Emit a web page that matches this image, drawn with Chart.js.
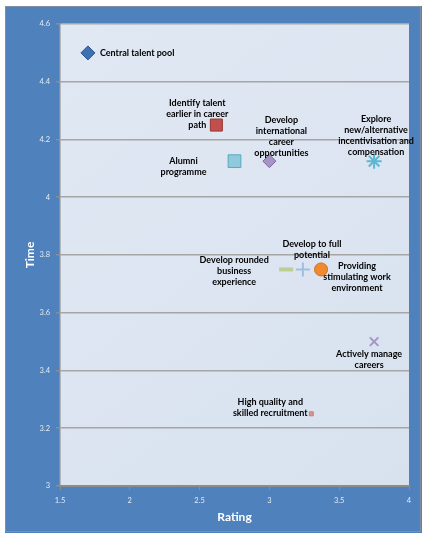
<!DOCTYPE html>
<html><head><meta charset="utf-8">
<script src="https://cdn.jsdelivr.net/npm/chart.js@4/dist/chart.umd.min.js"></script>
<style>html,body{margin:0;padding:0;background:#fff}#wrap{width:422px;height:533px}</style>
</head><body><div id="wrap"><canvas id="c" width="422" height="533"></canvas></div>
<script>
// ---- data ----
const names = [
  "Central talent pool",
  "Identify talent\nearlier in career\npath",
  "Alumni\nprogramme",
  "Develop\ninternational\ncareer\nopportunities",
  "Explore\nnew/alternative\nincentivisation and\ncompensation",
  "Develop rounded\nbusiness\nexperience",
  "Develop to full\npotential",
  "Providing\nstimulating work\nenvironment",
  "Actively manage\ncareers",
  "High quality and\nskilled recruitment"
];
const rating = [1.7, 2.62, 2.75, 3.0, 3.75, 3.12, 3.24, 3.37, 3.75, 3.3];
const time   = [4.5, 4.25, 4.125, 4.125, 4.125, 3.75, 3.75, 3.75, 3.5, 3.25];
const xTicks = [1.5, 2, 2.5, 3, 3.5, 4];
const yTicks = [3, 3.2, 3.4, 3.6, 3.8, 4, 4.2, 4.4, 4.6];

// ---- styling (separate from data) ----
const markerStyles = [
  {pointStyle:'rectRot', radius:7,  bg:'#3f70b2', bd:'#2a5690', bw:1},
  {pointStyle:'rect',    radius:8.5,bg:'#c0504d', bd:'#9a3532', bw:1},
  {pointStyle:'rect',    radius:9,  bg:'#8ecadb', bd:'#5aa9c0', bw:1},
  {pointStyle:'rectRot', radius:6.5,bg:'#a594c4', bd:'#8064a2', bw:1},
  {pointStyle:'star',    radius:7.5,bg:'#5fb6d0', bd:'#5fb6d0', bw:2},
  {pointStyle:'line',    radius:7,  bg:'#c3d69b', bd:'#bccf92', bw:4},
  {pointStyle:'cross',   radius:7,  bg:'#a3bddd', bd:'#a3bddd', bw:2},
  {pointStyle:'circle',  radius:6.5,bg:'#f08a30', bd:'#d9700f', bw:1},
  {pointStyle:'crossRot',radius:6,  bg:'#a594c4', bd:'#a594c4', bw:2},
  {pointStyle:'rect',    radius:2.8,bg:'#d99694', bd:'#c77a78', bw:1}
];
// label placement relative to marker (px): dx, dy of first line center, alignment
const labelPlace = [
  {dx:12, dy:0, align:'left'},
  {dx:-19, dy:-22, align:'center'},
  {dx:-51, dy:0, align:'center'},
  {dx:12, dy:-41, align:'center'},
  {dx:2, dy:-42, align:'center'},
  {dx:-52, dy:-9, align:'center'},
  {dx:9, dy:-25, align:'center'},
  {dx:36, dy:-3, align:'center'},
  {dx:-5, dy:12, align:'center'},
  {dx:-41, dy:-12, align:'center'}
];

const datasets = names.map((n,i)=>({
  label: n,
  data: [{x: rating[i], y: time[i]}],
  pointStyle: markerStyles[i].pointStyle,
  pointRadius: markerStyles[i].radius,
  pointHoverRadius: markerStyles[i].radius,
  backgroundColor: markerStyles[i].bg,
  borderColor: markerStyles[i].bd,
  borderWidth: markerStyles[i].bw
}));

const framePlugin = {
  id:'frame',
  beforeDraw(chart){
    const ctx = chart.ctx, a = chart.chartArea;
    ctx.save();
    ctx.fillStyle = '#ffffff';
    ctx.fillRect(0,0,chart.width,chart.height);
    ctx.fillStyle = '#4f81bd';
    ctx.fillRect(5,6,chart.width-5,chart.height-6);
    ctx.strokeStyle = '#7f8fa6';
    ctx.lineWidth = 1;
    ctx.strokeRect(5.5,6.5,chart.width-7,chart.height-8);
    const g = ctx.createLinearGradient(a.left,a.top,a.right,a.bottom);
    g.addColorStop(0,'#e0e8f3');
    g.addColorStop(1,'#d8e2ef');
    ctx.fillStyle = g;
    ctx.fillRect(a.left,a.top,a.right-a.left,a.bottom-a.top);
    ctx.restore();
  }
};

const labelPlugin = {
  id:'ptlabels',
  afterDatasetsDraw(chart){
    const ctx = chart.ctx, xs = chart.scales.x, ys = chart.scales.y;
    ctx.save();
    ctx.font = 'bold 9px Lato, "Open Sans", sans-serif';
    ctx.fillStyle = '#000';
    ctx.textBaseline = 'middle';
    names.forEach((n,i)=>{
      const px = xs.getPixelForValue(rating[i]);
      const py = ys.getPixelForValue(time[i]);
      const p = labelPlace[i];
      ctx.textAlign = p.align;
      n.split('\n').forEach((line,k)=>{
        ctx.fillText(line, px+p.dx, py+p.dy+k*11);
      });
    });
    ctx.restore();
  }
};

new Chart(document.getElementById('c'), {
  type:'scatter',
  data:{datasets},
  plugins:[framePlugin,labelPlugin],
  options:{
    responsive:false,
    animation:false,
    devicePixelRatio:1,
    layout:{padding:{left:0,top:24,right:13,bottom:0}},
    plugins:{legend:{display:false},tooltip:{enabled:false}},
    scales:{
      x:{
        type:'linear', min:1.5, max:4,
        afterBuildTicks(s){ s.ticks = xTicks.map(v=>({value:v})); },
        afterFit(s){ s.height = 47; },
        grid:{drawOnChartArea:false, drawTicks:true, tickLength:4, color:'#8c8c8c'},
        border:{display:true, color:'#8c8c8c', width:2},
        ticks:{color:'#e4ebf3', font:{size:7.5, family:'Lato, sans-serif'}, padding:6, maxRotation:0,
               callback:v=>String(v)},
        title:{display:true, text:'Rating', color:'#ffffff',
               font:{size:12, weight:'bold', family:'Lato, sans-serif'}, padding:{top:0,bottom:9}}
      },
      y:{
        type:'linear', min:3, max:4.6,
        afterBuildTicks(s){ s.ticks = yTicks.map(v=>({value:v})); },
        afterFit(s){ s.width = 60; },
        grid:{color:'#a6a6a6', lineWidth:1.5, drawTicks:true, tickLength:4, tickColor:'#8c8c8c'},
        border:{display:true, color:'#8c8c8c', width:1.5},
        ticks:{color:'#e4ebf3', font:{size:7.5, family:'Lato, sans-serif'}, padding:6,
               callback:v=>String(v)},
        title:{display:true, text:'Time', color:'#ffffff',
               font:{size:12, weight:'bold', family:'Lato, sans-serif'}, padding:{top:23,bottom:0}}
      }
    }
  }
});
</script>
</body></html>
